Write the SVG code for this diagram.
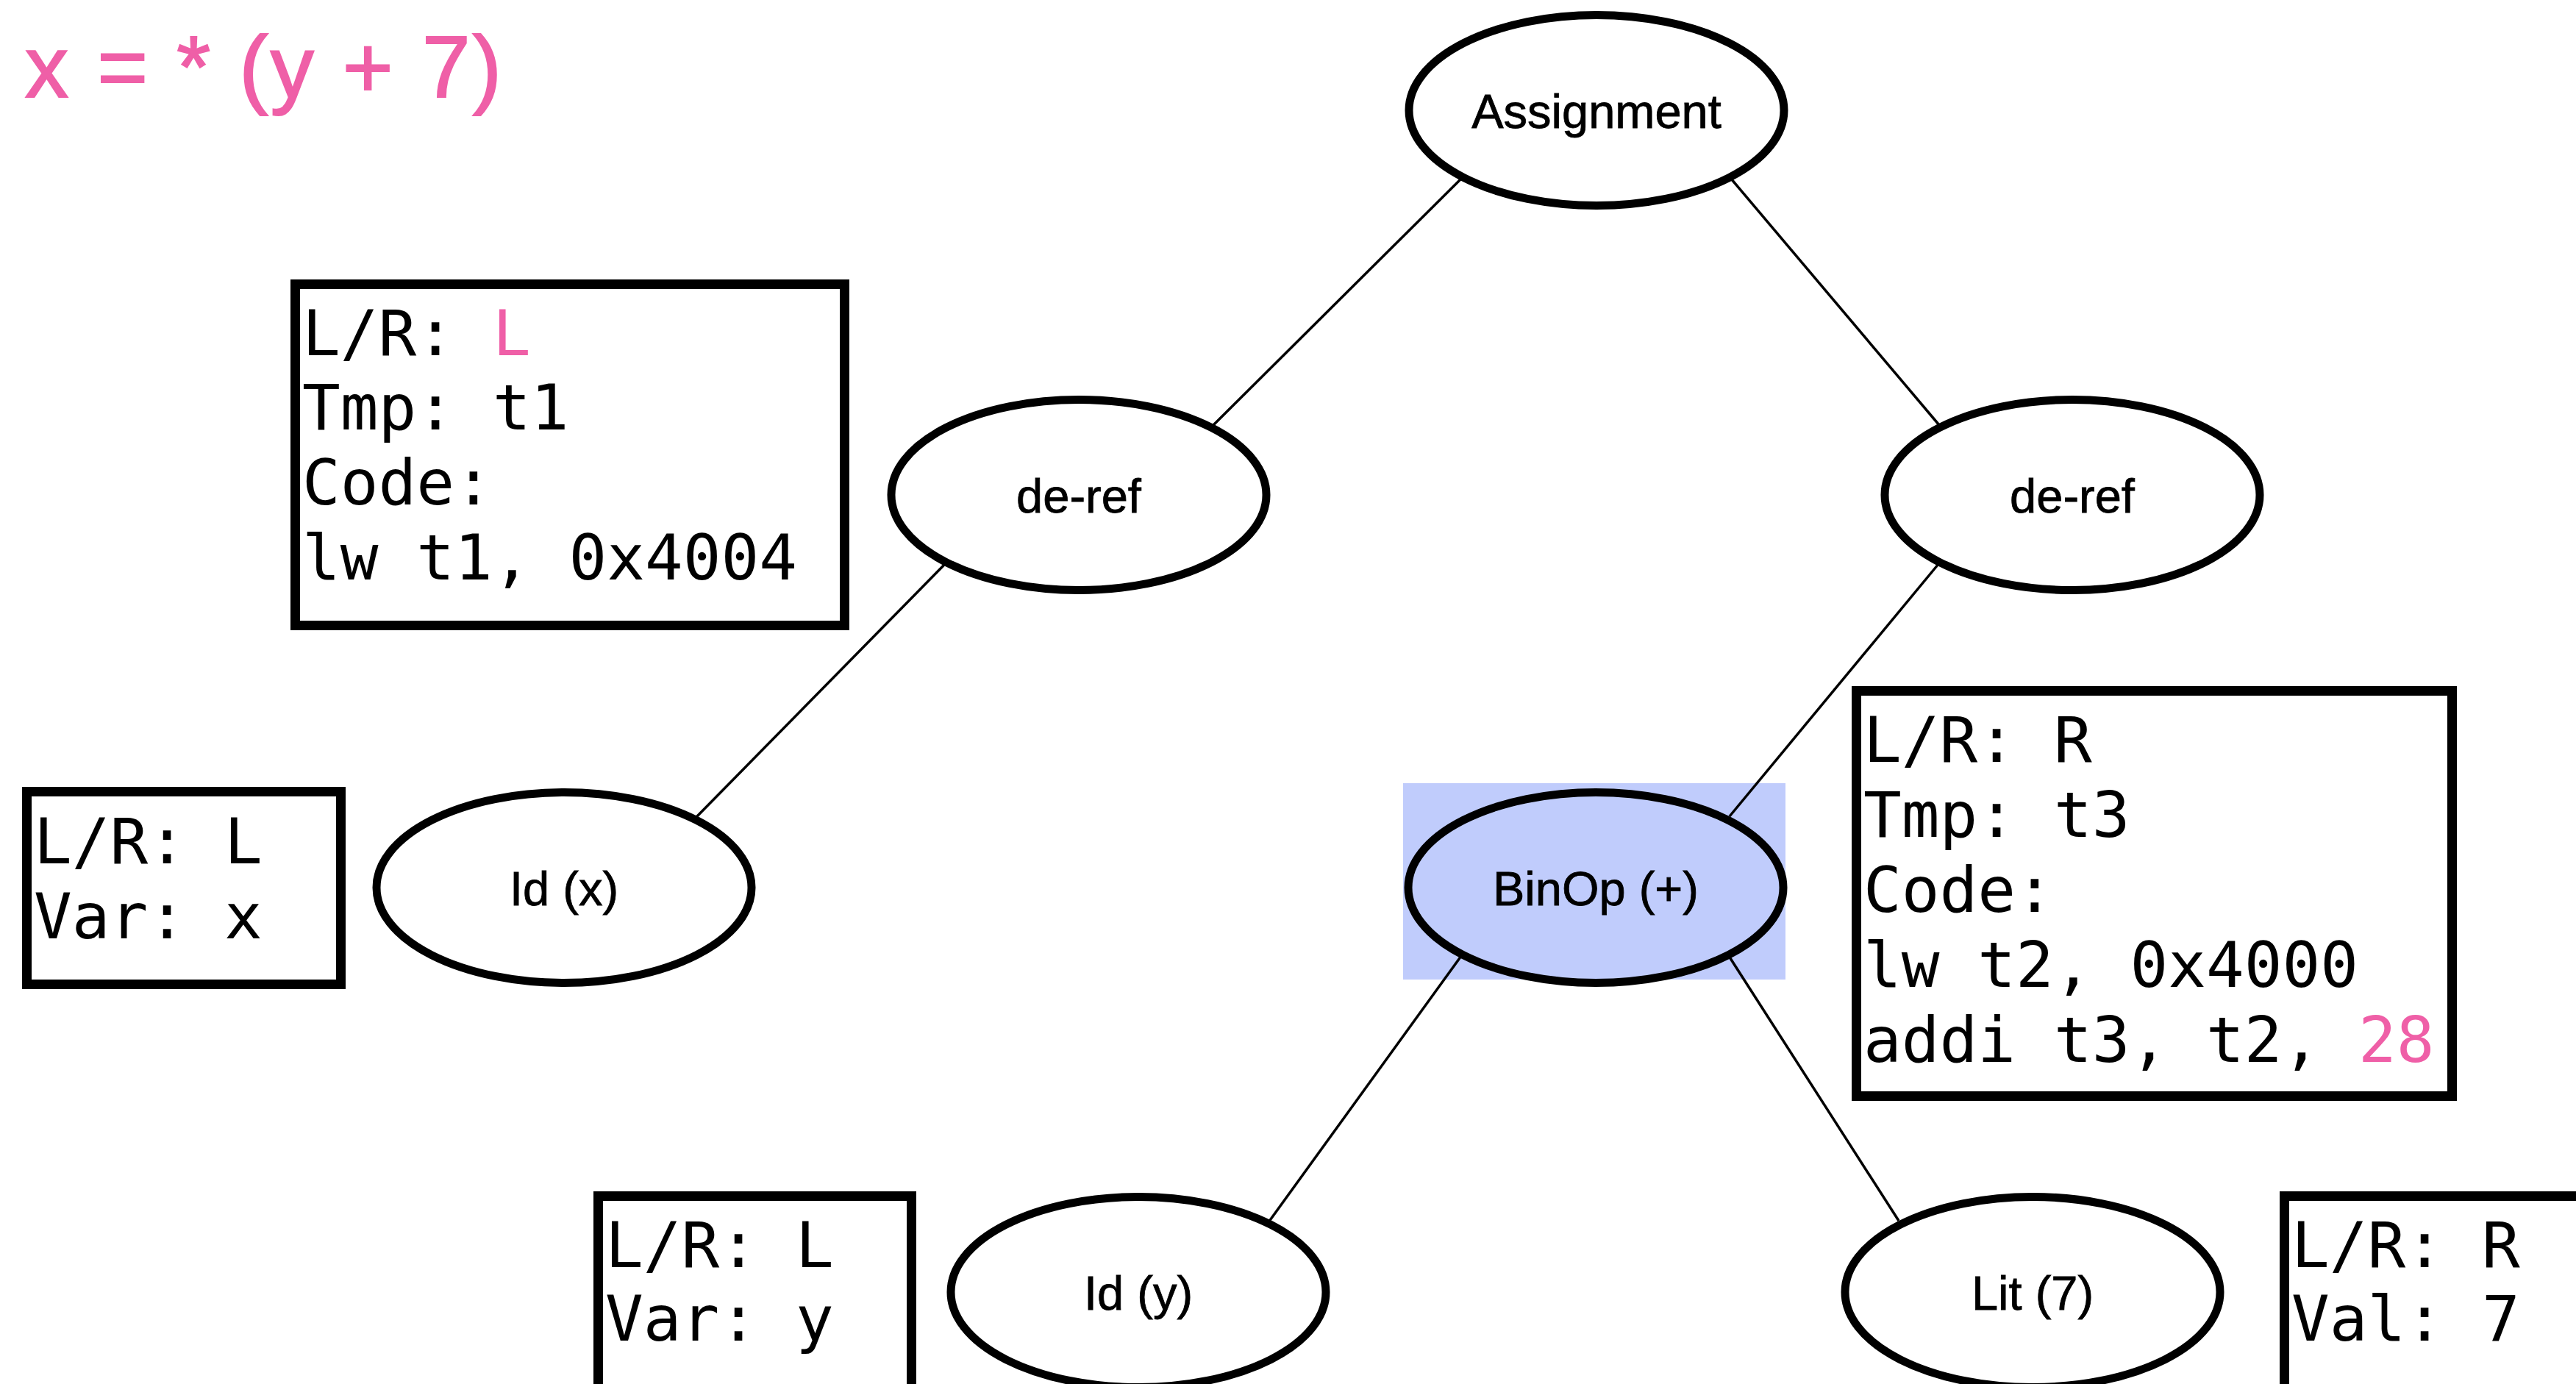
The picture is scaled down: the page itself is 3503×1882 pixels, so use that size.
<svg xmlns="http://www.w3.org/2000/svg" width="3503" height="1882" viewBox="0 0 3503 1882">
<style>
.node{fill:#fff;stroke:#000;stroke-width:11}
.lbl{font-family:"Liberation Sans",Arial,sans-serif;font-size:65px;fill:#000;stroke:#000;stroke-width:0.8;text-anchor:middle}
.box{fill:#fff;stroke:#000;stroke-width:13}
.mono{font-family:"DejaVu Sans Mono","Liberation Mono",monospace;font-size:86px;fill:#000}
.pink{fill:#EF5FA7}
.edge{stroke:#000;stroke-width:3.5;fill:none}
</style>
<rect width="3503" height="1882" fill="#fff"/>
<text id="title" x="34" y="132" font-family="Liberation Sans, Arial, sans-serif" font-size="118" class="pink" stroke="#EF5FA7" stroke-width="2" textLength="648" lengthAdjust="spacing">x = * (y + 7)</text>
<g id="binop-highlight"><rect x="1908" y="1065" width="520" height="267" fill="#C0CCFC"/></g>
<g id="connectors">
<line class="edge" x1="1987" y1="243" x2="1650" y2="578"/>
<line class="edge" x1="2354" y1="243" x2="2637" y2="578"/>
<line class="edge" x1="1285" y1="767" x2="946" y2="1112"/>
<line class="edge" x1="2636" y1="767" x2="2352" y2="1110"/>
<line class="edge" x1="1987" y1="1300" x2="1725" y2="1662"/>
<line class="edge" x1="2351" y1="1300" x2="2582" y2="1660"/>
</g>
<g id="assignment"><ellipse class="node" cx="2171" cy="150" rx="255" ry="129.5"/><text class="lbl" x="2171" y="174">Assignment</text></g>
<g id="deref-left"><ellipse class="node" cx="1467" cy="673" rx="255" ry="129.5"/><text class="lbl" x="1467" y="697">de-ref</text></g>
<g id="deref-right"><ellipse class="node" cx="2818" cy="673" rx="255" ry="129.5"/><text class="lbl" x="2818" y="697">de-ref</text></g>
<g id="id-x"><ellipse class="node" cx="767" cy="1207" rx="255" ry="129.5"/><text class="lbl" x="767" y="1231">Id (x)</text></g>
<g id="binop"><ellipse class="node" cx="2170" cy="1207" rx="255" ry="129.5" style="fill:#C0CCFC"/><text class="lbl" x="2170" y="1231">BinOp (+)</text></g>
<g id="id-y"><ellipse class="node" cx="1548" cy="1757" rx="255" ry="129.5"/><text class="lbl" x="1548" y="1781">Id (y)</text></g>
<g id="lit-7"><ellipse class="node" cx="2764" cy="1757" rx="255" ry="129.5"/><text class="lbl" x="2764" y="1781">Lit (7)</text></g>
<g id="info-deref-left"><rect class="box" x="401.5" y="386.5" width="747" height="464"/>
<text class="mono" x="411" y="483">L/R: <tspan class="pink">L</tspan></text>
<text class="mono" x="411" y="584">Tmp: t1</text>
<text class="mono" x="411" y="686">Code:</text>
<text class="mono" x="411" y="788">lw t1, 0x4004</text></g>
<g id="info-binop"><rect class="box" x="2524.5" y="939.5" width="810" height="551"/>
<text class="mono" x="2534" y="1036">L/R: R</text>
<text class="mono" x="2534" y="1138">Tmp: t3</text>
<text class="mono" x="2534" y="1240">Code:</text>
<text class="mono" x="2534" y="1342">lw t2, 0x4000</text>
<text class="mono" x="2534" y="1444">addi t3, t2, <tspan class="pink">28</tspan></text></g>
<g id="info-id-x"><rect class="box" x="36.5" y="1076.5" width="427" height="262"/>
<text class="mono" x="46" y="1174">L/R: L</text>
<text class="mono" x="46" y="1276">Var: x</text></g>
<g id="info-id-y"><rect class="box" x="813.5" y="1626.5" width="426" height="270"/>
<text class="mono" x="823" y="1723">L/R: L</text>
<text class="mono" x="823" y="1823">Var: y</text></g>
<g id="info-lit-7"><rect class="box" x="3106.5" y="1626.5" width="500" height="270"/>
<text class="mono" x="3116" y="1723">L/R: R</text>
<text class="mono" x="3116" y="1823">Val: 7</text></g>
</svg>
